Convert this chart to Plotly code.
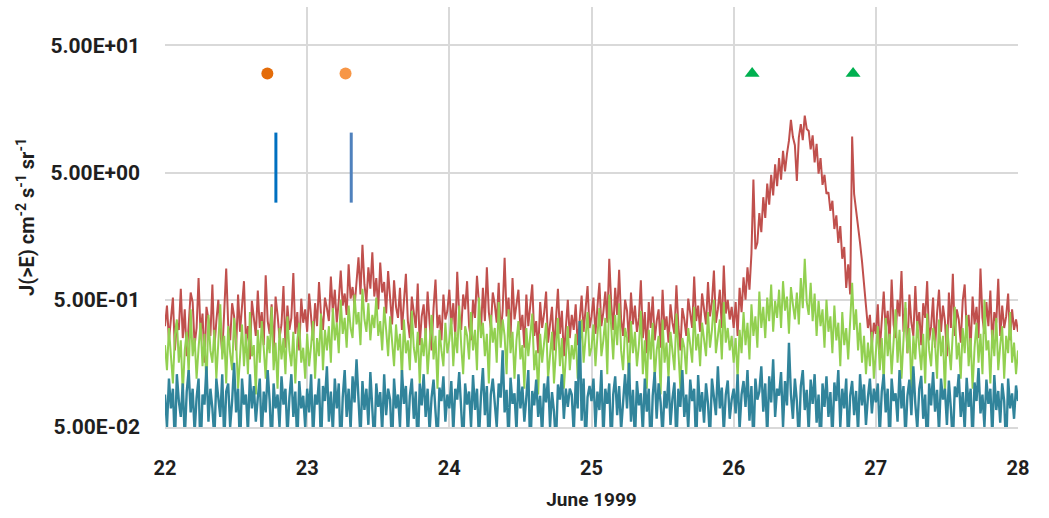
import numpy as np
import plotly.graph_objects as go

# Sampling: 72 samples per day (20-minute cadence), starting 22 June 1999 00:00
START_DAY = 22.0
SAMPLES_PER_DAY = 72

# Integral flux J(>E) for the three energy channels (cm^-2 s^-1 sr^-1)
flux_high = [
    # 22 June
    0.31, 0.45, 0.24, 0.38, 0.52, 0.2, 0.33, 0.29, 0.61, 0.25, 0.42, 0.18,
    0.36, 0.57, 0.48, 0.22, 0.3, 0.74, 0.27, 0.39, 0.16, 0.44, 0.35, 0.26,
    0.66, 0.21, 0.34, 0.5, 0.29, 0.19, 0.41, 0.88, 0.32, 0.24, 0.47, 0.37,
    0.2, 0.55, 0.28, 0.43, 0.7, 0.23, 0.31, 0.17, 0.49, 0.36, 0.26, 0.59,
    0.3, 0.4, 0.22, 0.78, 0.34, 0.27, 0.46, 0.19, 0.53, 0.38, 0.25, 0.32,
    0.64, 0.21, 0.45, 0.29, 0.36, 0.81, 0.27, 0.4, 0.2, 0.51, 0.33, 0.42,
    # 23 June
    0.28, 0.56, 0.35, 0.24, 0.47, 0.31, 0.69, 0.38, 0.29, 0.52, 0.43, 0.34,
    0.76, 0.4, 0.6, 0.33, 0.49, 0.85, 0.45, 0.56, 0.38, 0.95, 0.51, 0.63,
    0.44, 0.72, 1.08, 0.55, 1.35, 0.66, 0.48, 0.9, 0.61, 1.18, 0.53, 0.74,
    0.42, 0.98, 0.57, 0.69, 0.39, 0.84, 0.5, 0.32, 0.71, 0.44, 0.36, 0.62,
    0.29, 0.48, 0.8, 0.34, 0.25, 0.53, 0.4, 0.3, 0.67, 0.22, 0.37, 0.46,
    0.26, 0.58, 0.33, 0.2, 0.43, 0.72, 0.3, 0.38, 0.24, 0.55, 0.35, 0.41,
    # 24 June
    0.6, 0.32, 0.47, 0.26, 0.83, 0.38, 0.29, 0.55, 0.42, 0.7, 0.31, 0.24,
    0.5, 0.36, 0.77, 0.45, 0.28, 0.62, 0.34, 0.9, 0.4, 0.3, 0.57, 0.46,
    0.33, 0.68, 0.27, 0.41, 1.07, 0.37, 0.52, 0.25, 0.74, 0.35, 0.45, 0.6,
    0.29, 0.38, 0.21, 0.55, 0.31, 0.43, 0.66, 0.26, 0.34, 0.19, 0.48, 0.3,
    0.39, 0.58, 0.23, 0.32, 0.44, 0.2, 0.36, 0.61, 0.27, 0.41, 0.18, 0.33,
    0.5, 0.25, 0.38, 0.29, 0.46, 0.22, 0.35, 0.54, 0.28, 0.42, 0.64, 0.3,
    # 25 June
    0.37, 0.52, 0.27, 0.44, 0.68, 0.31, 0.4, 0.58, 0.33, 1.05, 0.46, 0.29,
    0.62, 0.38, 0.86, 0.35, 0.26, 0.5, 0.41, 0.23, 0.57, 0.32, 0.45, 0.28,
    0.36, 0.71, 0.25, 0.4, 0.19, 0.48, 0.3, 0.53, 0.24, 0.34, 0.42, 0.21,
    0.6, 0.29, 0.37, 0.23, 0.46, 0.33, 0.27, 0.65, 0.31, 0.2, 0.43, 0.35,
    0.26, 0.51, 0.38, 0.3, 0.76, 0.34, 0.45, 0.28, 0.56, 0.4, 0.32, 0.69,
    0.37, 0.48, 0.85, 0.33, 0.42, 0.6, 0.3, 0.93, 0.39, 0.5, 0.35, 0.44,
    # 26 June (event)
    0.3, 0.48, 0.26, 0.62, 0.4, 0.75, 0.5, 0.9, 0.6, 1.15, 4.4, 1.25,
    1.4, 2.4, 1.7, 3.2, 2.2, 4.1, 2.8, 4.8, 3.3, 5.8, 3.9, 6.5,
    4.4, 7.4, 5.1, 7.0, 8.9, 13.0, 9.5, 8.2, 4.3, 9.4, 12.0, 9.0,
    14.0, 11.0, 10.6, 7.6, 9.8, 6.0, 8.4, 4.9, 6.5, 4.0, 4.8, 3.4,
    3.5, 2.5, 3.0, 1.8, 2.3, 1.4, 1.9, 1.05, 1.3, 0.62, 0.95, 0.55,
    9.6, 3.4, 2.6, 1.8, 1.4, 1.0, 0.62, 0.45, 0.3, 0.38, 0.22, 0.33,
    # 27 June
    0.27, 0.46, 0.2, 0.35, 0.58, 0.29, 0.41, 0.23, 0.72, 0.32, 0.25, 0.5,
    0.37, 0.84, 0.28, 0.43, 0.19, 0.55, 0.33, 0.26, 0.64, 0.3, 0.4, 0.22,
    0.47, 0.36, 0.7, 0.24, 0.31, 0.52, 0.21, 0.39, 0.6, 0.28, 0.45, 0.34,
    0.18, 0.57, 0.3, 0.8, 0.26, 0.42, 0.35, 0.23, 0.49, 0.66, 0.29, 0.38,
    0.21, 0.53, 0.32, 0.44, 0.25, 0.88, 0.36, 0.27, 0.48, 0.31, 0.59, 0.22,
    0.4, 0.33, 0.73, 0.26, 0.45, 0.3, 0.37, 0.56, 0.24, 0.42, 0.29, 0.35,
    # 28 June 00:00
    0.28,
]

flux_mid = [
    # 22 June
    0.22, 0.14, 0.3, 0.19, 0.11, 0.26, 0.35, 0.16, 0.24, 0.09, 0.2, 0.28,
    0.13, 0.42, 0.18, 0.25, 0.12, 0.21, 0.33, 0.15, 0.27, 0.1, 0.38, 0.2,
    0.16, 0.29, 0.12, 0.23, 0.46, 0.17, 0.26, 0.11, 0.31, 0.19, 0.14, 0.36,
    0.24, 0.1, 0.2, 0.32, 0.15, 0.27, 0.13, 0.4, 0.18, 0.22, 0.09, 0.29,
    0.16, 0.34, 0.21, 0.12, 0.26, 0.19, 0.44, 0.14, 0.23, 0.1, 0.3, 0.17,
    0.25, 0.13, 0.37, 0.2, 0.15, 0.28, 0.11, 0.24, 0.33, 0.16, 0.21, 0.12,
    # 23 June
    0.27, 0.15, 0.22, 0.34, 0.12, 0.25, 0.18, 0.39, 0.14, 0.29, 0.2, 0.31,
    0.16, 0.43, 0.24, 0.33, 0.19, 0.5, 0.27, 0.36, 0.21, 0.45, 0.3, 0.25,
    0.55, 0.32, 0.4, 0.22, 0.61, 0.35, 0.28, 0.47, 0.24, 0.38, 0.3, 0.52,
    0.26, 0.34, 0.2, 0.44, 0.29, 0.18, 0.37, 0.23, 0.15, 0.32, 0.2, 0.27,
    0.12, 0.35, 0.19, 0.24, 0.14, 0.41, 0.21, 0.16, 0.28, 0.11, 0.25, 0.18,
    0.3, 0.13, 0.22, 0.38, 0.17, 0.26, 0.1, 0.29, 0.2, 0.15, 0.33, 0.19,
    # 24 June
    0.24, 0.36, 0.15, 0.28, 0.19, 0.45, 0.22, 0.13, 0.31, 0.26, 0.17, 0.4,
    0.2, 0.29, 0.14, 0.52, 0.25, 0.33, 0.18, 0.27, 0.11, 0.38, 0.23, 0.3,
    0.16, 0.48, 0.21, 0.35, 0.26, 0.13, 0.42, 0.19, 0.28, 0.12, 0.24, 0.34,
    0.17, 0.22, 0.1, 0.3, 0.18, 0.26, 0.39, 0.14, 0.2, 0.09, 0.27, 0.16,
    0.23, 0.33, 0.12, 0.19, 0.28, 0.11, 0.21, 0.36, 0.15, 0.25, 0.1, 0.18,
    0.31, 0.14, 0.22, 0.17, 0.27, 0.12, 0.2, 0.35, 0.16, 0.24, 0.4, 0.18,
    # 25 June
    0.21, 0.32, 0.15, 0.26, 0.43, 0.18, 0.24, 0.36, 0.13, 0.55, 0.27, 0.17,
    0.38, 0.22, 0.47, 0.2, 0.14, 0.3, 0.25, 0.11, 0.34, 0.19, 0.28, 0.15,
    0.22, 0.41, 0.13, 0.24, 0.1, 0.29, 0.17, 0.33, 0.12, 0.2, 0.26, 0.09,
    0.35, 0.16, 0.23, 0.12, 0.28, 0.19, 0.14, 0.39, 0.18, 0.1, 0.25, 0.21,
    0.13, 0.3, 0.22, 0.16, 0.44, 0.2, 0.27, 0.15, 0.33, 0.24, 0.18, 0.4,
    0.21, 0.29, 0.5, 0.19, 0.25, 0.35, 0.17, 0.48, 0.23, 0.3, 0.2, 0.26,
    # 26 June (event)
    0.16, 0.25, 0.12, 0.29, 0.19, 0.4, 0.22, 0.33, 0.17, 0.46, 0.26, 0.37,
    0.21, 0.58, 0.3, 0.44, 0.25, 0.52, 0.34, 0.66, 0.28, 0.49, 0.36, 0.6,
    0.3, 0.7, 0.41, 0.53, 0.27, 0.63, 0.46, 0.35, 0.57, 0.32, 0.74, 0.43,
    1.05, 0.48, 0.38, 0.68, 0.34, 0.56, 0.26, 0.49, 0.31, 0.42, 0.21, 0.5,
    0.28, 0.37, 0.19, 0.45, 0.24, 0.33, 0.15, 0.4, 0.22, 0.3, 0.17, 0.35,
    0.68, 0.29, 0.42, 0.2, 0.33, 0.16, 0.26, 0.13, 0.23, 0.15, 0.28, 0.12,
    # 27 June
    0.2, 0.31, 0.14, 0.25, 0.11, 0.36, 0.18, 0.27, 0.13, 0.22, 0.42, 0.16,
    0.29, 0.12, 0.24, 0.48, 0.19, 0.3, 0.1, 0.26, 0.17, 0.34, 0.21, 0.14,
    0.27, 0.11, 0.39, 0.2, 0.15, 0.3, 0.23, 0.12, 0.35, 0.18, 0.26, 0.09,
    0.32, 0.2, 0.14, 0.28, 0.44, 0.17, 0.23, 0.12, 0.3, 0.19, 0.38, 0.15,
    0.25, 0.1, 0.21, 0.33, 0.16, 0.27, 0.13, 0.5, 0.2, 0.24, 0.11, 0.29,
    0.18, 0.36, 0.14, 0.22, 0.31, 0.12, 0.26, 0.19, 0.4, 0.16, 0.23, 0.13,
    # 28 June 00:00
    0.2,
]

flux_low = [
    # 22 June
    0.09, 0.05, 0.12, 0.07, 0.1, 0.035, 0.13, 0.08, 0.06, 0.11, 0.04, 0.095,
    0.14, 0.065, 0.1, 0.045, 0.085, 0.12, 0.03, 0.09, 0.075, 0.15, 0.055, 0.1,
    0.07, 0.04, 0.12, 0.085, 0.06, 0.13, 0.038, 0.095, 0.11, 0.05, 0.08, 0.16,
    0.065, 0.1, 0.032, 0.12, 0.075, 0.09, 0.045, 0.13, 0.07, 0.105, 0.055, 0.085,
    0.12, 0.04, 0.095, 0.065, 0.14, 0.08, 0.033, 0.11, 0.07, 0.09, 0.05, 0.125,
    0.075, 0.1, 0.042, 0.085, 0.13, 0.06, 0.095, 0.036, 0.115, 0.07, 0.088, 0.05,
    # 23 June
    0.1, 0.065, 0.13, 0.04, 0.09, 0.075, 0.12, 0.034, 0.105, 0.08, 0.15, 0.055,
    0.095, 0.045, 0.12, 0.07, 0.11, 0.03, 0.085, 0.14, 0.06, 0.1, 0.048, 0.125,
    0.078, 0.17, 0.09, 0.04, 0.115, 0.068, 0.1, 0.052, 0.135, 0.08, 0.036, 0.11,
    0.072, 0.094, 0.045, 0.13, 0.062, 0.1, 0.082, 0.033, 0.12, 0.07, 0.09, 0.05,
    0.14, 0.076, 0.105, 0.042, 0.088, 0.12, 0.058, 0.095, 0.031, 0.11, 0.074, 0.13,
    0.06, 0.1, 0.046, 0.085, 0.118, 0.066, 0.038, 0.102, 0.08, 0.125, 0.055, 0.09,
    # 24 June
    0.07, 0.115, 0.045, 0.1, 0.082, 0.135, 0.06, 0.035, 0.11, 0.075, 0.095, 0.05,
    0.128, 0.068, 0.1, 0.04, 0.087, 0.145, 0.062, 0.105, 0.032, 0.09, 0.12, 0.072,
    0.05, 0.11, 0.085, 0.2, 0.065, 0.098, 0.038, 0.122, 0.076, 0.092, 0.046, 0.13,
    0.07, 0.104, 0.055, 0.086, 0.14, 0.03, 0.096, 0.074, 0.118, 0.06, 0.088, 0.042,
    0.11, 0.078, 0.125, 0.05, 0.094, 0.066, 0.036, 0.108, 0.082, 0.13, 0.058, 0.1,
    0.072, 0.1, 0.09, 0.044, 0.115, 0.07, 0.34, 0.056, 0.12, 0.034, 0.086, 0.105,
    # 25 June
    0.08, 0.12, 0.05, 0.095, 0.068, 0.14, 0.04, 0.1, 0.076, 0.11, 0.033, 0.09,
    0.125, 0.062, 0.105, 0.047, 0.085, 0.13, 0.07, 0.16, 0.055, 0.098, 0.038, 0.115,
    0.074, 0.092, 0.045, 0.12, 0.066, 0.1, 0.03, 0.088, 0.135, 0.058, 0.11, 0.078,
    0.042, 0.096, 0.07, 0.125, 0.052, 0.084, 0.112, 0.036, 0.1, 0.072, 0.14, 0.06,
    0.09, 0.048, 0.118, 0.08, 0.1, 0.034, 0.128, 0.066, 0.094, 0.054, 0.11, 0.076,
    0.04, 0.12, 0.086, 0.062, 0.15, 0.07, 0.102, 0.045, 0.09, 0.116, 0.058, 0.082,
    # 26 June
    0.1, 0.064, 0.13, 0.048, 0.09, 0.115, 0.072, 0.14, 0.056, 0.105, 0.036, 0.12,
    0.082, 0.095, 0.15, 0.066, 0.11, 0.042, 0.125, 0.078, 0.17, 0.06, 0.1, 0.088,
    0.135, 0.05, 0.115, 0.074, 0.23, 0.09, 0.058, 0.12, 0.08, 0.038, 0.105, 0.14,
    0.068, 0.098, 0.046, 0.118, 0.076, 0.13, 0.054, 0.09, 0.032, 0.11, 0.072, 0.125,
    0.06, 0.094, 0.04, 0.112, 0.08, 0.14, 0.05, 0.1, 0.07, 0.12, 0.035, 0.088,
    0.115, 0.062, 0.096, 0.045, 0.13, 0.074, 0.108, 0.052, 0.086, 0.12, 0.064, 0.1,
    # 27 June
    0.078, 0.11, 0.043, 0.095, 0.13, 0.065, 0.1, 0.034, 0.12, 0.08, 0.092, 0.055,
    0.14, 0.07, 0.105, 0.04, 0.088, 0.118, 0.062, 0.15, 0.076, 0.048, 0.1, 0.126,
    0.058, 0.09, 0.031, 0.11, 0.074, 0.135, 0.066, 0.098, 0.045, 0.12, 0.082, 0.1,
    0.052, 0.116, 0.07, 0.036, 0.104, 0.086, 0.13, 0.06, 0.094, 0.047, 0.122, 0.072,
    0.1, 0.038, 0.112, 0.08, 0.145, 0.064, 0.09, 0.05, 0.118, 0.076, 0.1, 0.042,
    0.128, 0.068, 0.096, 0.054, 0.11, 0.08, 0.033, 0.12, 0.07, 0.092, 0.058, 0.106,
    # 28 June 00:00
    0.08,
]

# Event markers (day of June 1999, flux level)
circle_days = [22.72, 23.27]
circle_flux = [30, 30]
circle_colors = ["#e46c0a", "#f79646"]

triangle_days = [26.13, 26.84]
triangle_flux = [30, 30]

bar_days = [22.78, 23.31]
bar_low = [2.9, 2.9]
bar_high = [10.3, 10.3]
bar_colors = ["#0070c0", "#4f81bd"]

x_ticks = [22, 23, 24, 25, 26, 27, 28]
y_ticks = [0.05, 0.5, 5, 50]
y_ticktext = ["5.00E-02", "5.00E-01", "5.00E+00", "5.00E+01"]

FONT = "Roboto, Liberation Sans, sans-serif"
TEXT = "#1f1f1f"
GRID = "#d9d9d9"


def days(values):
    return START_DAY + np.arange(len(values)) / SAMPLES_PER_DAY


fig = go.Figure()

for values, color, width in [(flux_high, "#c0504d", 2.0),
                             (flux_mid, "#92d050", 2.0),
                             (flux_low, "#31849b", 2.4)]:
    fig.add_trace(go.Scatter(
        x=days(values), y=values, mode="lines",
        line=dict(color=color, width=width), hoverinfo="skip",
    ))

for d, lo, hi, c in zip(bar_days, bar_low, bar_high, bar_colors):
    fig.add_trace(go.Scatter(
        x=[d, d], y=[lo, hi], mode="lines",
        line=dict(color=c, width=3), hoverinfo="skip",
    ))

fig.add_trace(go.Scatter(
    x=circle_days, y=circle_flux, mode="markers",
    marker=dict(symbol="circle", size=12, color=circle_colors), hoverinfo="skip",
))
fig.add_trace(go.Scatter(
    x=triangle_days, y=triangle_flux, mode="markers",
    marker=dict(symbol="triangle-up", size=13, color="#00b050"), hoverinfo="skip",
))

fig.update_layout(
    width=1049, height=518,
    margin=dict(l=165, r=31, t=7, b=91),
    paper_bgcolor="white", plot_bgcolor="white",
    showlegend=False,
    font=dict(family=FONT, color=TEXT),
)

fig.update_xaxes(
    range=[22, 28], tickvals=x_ticks, ticktext=[str(v) for v in x_ticks],
    showgrid=True, gridcolor=GRID, gridwidth=1.5,
    showline=True, linecolor=GRID, linewidth=1.5,
    zeroline=False, ticks="",
    ticklabelstandoff=22,
    tickfont=dict(family=FONT, size=20, color=TEXT, weight="bold"),
    title=dict(text="June 1999", standoff=14,
               font=dict(family=FONT, size=19, color=TEXT, weight="bold")),
)

fig.update_yaxes(
    type="log", range=[np.log10(0.05), 2],
    tickvals=y_ticks, ticktext=y_ticktext,
    showgrid=True, gridcolor=GRID, gridwidth=1.5,
    showline=False, zeroline=False, ticks="",
    ticklabelstandoff=24,
    tickfont=dict(family=FONT, size=21, color=TEXT, weight="bold"),
    title=dict(text="J(>E) cm<sup>-2</sup> s<sup>-1</sup> sr<sup>-1</sup>", standoff=10,
               font=dict(family=FONT, size=20, color=TEXT, weight="bold")),
)

fig.write_html("out.html")
